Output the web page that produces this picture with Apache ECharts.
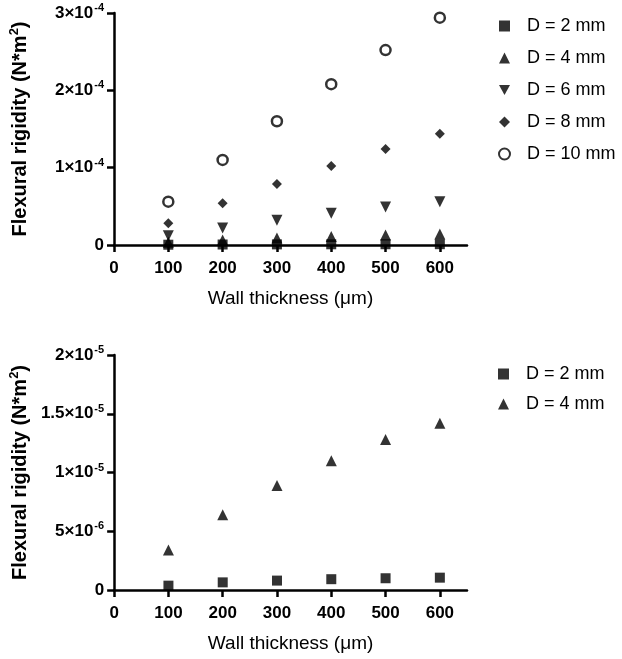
<!DOCTYPE html>
<html>
<head>
<meta charset="utf-8">
<script src="https://cdn.jsdelivr.net/npm/echarts@6/dist/echarts.min.js"></script>
<style>
  html, body { margin: 0; padding: 0; background: #fff; }
  #chart { width: 622px; height: 659px; }
</style>
</head>
<body>
<div id="chart"></div>
<script>
  // wall thickness (um)
  var thickness = [100, 200, 300, 400, 500, 600];
  // flexural rigidity (N*m^2) per tube diameter
  var d2 = [3.7e-7, 6.5e-7, 8.0e-7, 9.2e-7, 1.0e-6, 1.05e-6];
  var d4 = [3.4e-6, 6.4e-6, 8.9e-6, 1.10e-5, 1.28e-5, 1.42e-5];
  var d6 = [1.2e-5, 2.2e-5, 3.2e-5, 4.1e-5, 4.9e-5, 5.6e-5];
  var d8 = [2.8e-5, 5.4e-5, 7.9e-5, 1.02e-4, 1.24e-4, 1.44e-4];
  var d10 = [5.6e-5, 1.10e-4, 1.60e-4, 2.08e-4, 2.52e-4, 2.94e-4];

  var xTicks = [0, 100, 200, 300, 400, 500, 600];
  var topYTicks = [0, 1e-4, 2e-4, 3e-4];
  var topYLabels = ['0', '1×10^-4', '2×10^-4', '3×10^-4'];
  var botYTicks = [0, 5e-6, 1e-5, 1.5e-5, 2e-5];
  var botYLabels = ['0', '5×10^-6', '1×10^-5', '1.5×10^-5', '2×10^-5'];

  var names = ['D = 2 mm', 'D = 4 mm', 'D = 6 mm', 'D = 8 mm', 'D = 10 mm'];

  function pairs(ys) {
    return thickness.map(function (x, i) { return [x, ys[i]]; });
  }

  function tickFormatter(ticks, labels) {
    return function (v) {
      var best = 0;
      for (var i = 1; i < ticks.length; i++) {
        if (Math.abs(ticks[i] - v) < Math.abs(ticks[best] - v)) best = i;
      }
      var parts = labels[best].split('^');
      if (parts.length === 1) return '{m|' + parts[0] + '}';
      return '{m|' + parts[0] + '}{s|' + parts[1] + '}';
    };
  }

  var font = 'Liberation Sans, Arial, sans-serif';
  var labelRich = {
    m: { fontSize: 17, fontWeight: 'bold', color: '#000', fontFamily: font },
    s: { fontSize: 11, fontWeight: 'bold', color: '#000', fontFamily: font, padding: [0, 0, 10, 1] }
  };
  var nameRich = {
    b: { fontSize: 20, fontWeight: 'bold', color: '#000', fontFamily: font },
    s: { fontSize: 13, fontWeight: 'bold', color: '#000', fontFamily: font, padding: [0, 0, 11, 0] }
  };

  var axisLineStyle = { color: '#000', width: 2.5 };

  function xAxis(idx) {
    return {
      type: 'value', gridIndex: idx, min: 0, max: 650,
      name: 'Wall thickness (μm)', nameLocation: 'middle', nameGap: 44,
      nameTextStyle: { fontSize: 19, color: '#000', fontFamily: font },
      axisLine: { lineStyle: axisLineStyle },
      axisTick: { show: true, length: 7, lineStyle: axisLineStyle, customValues: xTicks },
      axisLabel: {
        customValues: xTicks, margin: 15,
        fontSize: 17, fontWeight: 'bold', color: '#000', fontFamily: font
      },
      splitLine: { show: false }
    };
  }

  function yAxis(idx, ticks, labels, max) {
    return {
      type: 'value', gridIndex: idx, min: 0, max: max,
      name: '{b|Flexural rigidity (N*m}{s|2}{b|)}', nameLocation: 'middle', nameGap: 82,
      nameTextStyle: { rich: nameRich },
      axisLine: { show: true, lineStyle: axisLineStyle },
      axisTick: { show: true, length: 7, lineStyle: axisLineStyle, customValues: ticks },
      axisLabel: {
        customValues: ticks, margin: 10,
        formatter: tickFormatter(ticks, labels), rich: labelRich
      },
      splitLine: { show: false }
    };
  }

  var black = { color: '#000' };
  var open = { color: '#fff', borderColor: '#000', borderWidth: 2.5 };

  function scatter(name, data, idx, symbol, size, style, rotate) {
    return {
      name: name, type: 'scatter', xAxisIndex: idx, yAxisIndex: idx,
      data: pairs(data), symbol: symbol, symbolSize: size, symbolRotate: rotate || 0,
      itemStyle: style, emphasis: { disabled: true }
    };
  }

  var downTri = 'path://M0,0 L10,0 L5,9 Z';
  var legendText = { fontSize: 18, color: '#000', fontFamily: font, padding: [0, 0, 0, 12] };

  var option = {
    animation: false,
    backgroundColor: '#fff',
    grid: [
      { left: 113, top: 13, width: 354, height: 232 },
      { left: 113, top: 355, width: 354, height: 235 }
    ],
    xAxis: [xAxis(0), xAxis(1)],
    yAxis: [yAxis(0, topYTicks, topYLabels, 3e-4), yAxis(1, botYTicks, botYLabels, 2e-5)],
    legend: [
      {
        orient: 'vertical', left: 493, top: 12, itemWidth: 11, itemHeight: 11, itemGap: 14,
        data: [names[0], names[1], { name: names[2], icon: downTri, itemStyle: { color: '#000' } }, names[3], names[4]],
        textStyle: legendText, selectedMode: false, symbolRotate: 0
      },
      {
        orient: 'vertical', left: 493, top: 360, itemWidth: 11, itemHeight: 11, itemGap: 12,
        data: names.slice(0, 2), textStyle: legendText, selectedMode: false
      }
    ],
    series: [
      scatter(names[0], d2, 0, 'rect', 10, black),
      scatter(names[1], d4, 0, 'triangle', 11, black),
      scatter(names[2], d6, 0, 'triangle', 11, black, 180),
      scatter(names[3], d8, 0, 'diamond', 10, black),
      scatter(names[4], d10, 0, 'circle', 10, open),
      scatter(names[0], d2, 1, 'rect', 10, black),
      scatter(names[1], d4, 1, 'triangle', 11, black)
    ]
  };

  var chart = echarts.init(document.getElementById('chart'), null, { renderer: 'canvas' });
  chart.setOption(option);
</script>
</body>
</html>
